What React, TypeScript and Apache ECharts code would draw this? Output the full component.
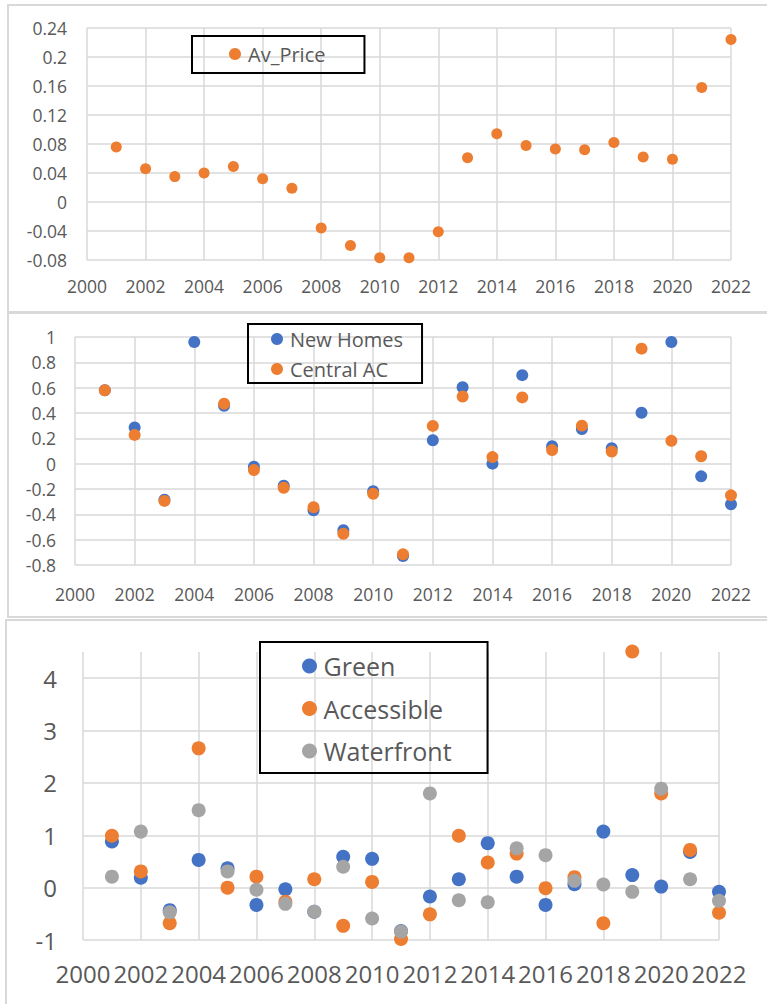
import React, { useEffect, useRef } from "react";
import * as echarts from "echarts";

const years = [2001, 2002, 2003, 2004, 2005, 2006, 2007, 2008, 2009, 2010, 2011, 2012, 2013, 2014, 2015, 2016, 2017, 2018, 2019, 2020, 2021, 2022];

const avPrice = [0.076, 0.046, 0.035, 0.040, 0.049, 0.032, 0.019, -0.036, -0.060, -0.077, -0.077, -0.041, 0.061, 0.094, 0.078, 0.073, 0.072, 0.082, 0.062, 0.059, 0.158, 0.224];

const newHomes = [0.58, 0.285, -0.285, 0.96, 0.457, -0.024, -0.174, -0.368, -0.525, -0.218, -0.729, 0.185, 0.604, 0.0, 0.699, 0.138, 0.274, 0.122, 0.402, 0.96, -0.10, -0.32];
const centralAC: (number | null)[] = [0.58, 0.227, -0.294, null, 0.473, -0.05, -0.19, -0.344, -0.553, -0.238, -0.716, 0.298, 0.53, 0.052, 0.523, 0.107, 0.30, 0.096, 0.908, 0.18, 0.059, -0.25];

const green = [0.88, 0.19, -0.43, 0.53, 0.37, -0.33, -0.03, -0.46, 0.59, 0.55, -0.83, -0.17, 0.16, 0.85, 0.21, -0.33, 0.064, 1.07, 0.24, 0.02, 0.68, -0.08];
const accessible = [0.99, 0.31, -0.68, 2.66, 0.0, 0.21, -0.27, 0.16, -0.73, 0.11, -0.98, -0.51, 0.99, 0.48, 0.65, -0.01, 0.20, -0.68, 4.51, 1.80, 0.72, -0.48];
const waterfront = [0.21, 1.07, -0.47, 1.48, 0.31, -0.04, -0.31, -0.46, 0.40, -0.59, -0.84, 1.80, -0.24, -0.28, 0.75, 0.62, 0.13, 0.06, -0.08, 1.89, 0.16, -0.25];

const xTickYears = [2000, 2002, 2004, 2006, 2008, 2010, 2012, 2014, 2016, 2018, 2020, 2022];

const ORANGE = "#ED7D31";
const BLUE = "#4472C4";
const GRAY = "#A5A5A5";
const GRID = "#d9d9d9";
const TEXT = "#595959";
const FONT = "'Open Sans', Lato, sans-serif";

const pairs = (vals: (number | null)[]) =>
  years.map((y, i) => (vals[i] === null ? null : [y, vals[i]])).filter((p) => p !== null);

const fmt = (v: number) => String(+v.toFixed(2));

export default function App() {
  const ref = useRef<HTMLDivElement>(null);
  useEffect(() => {
    if (!ref.current) return;
    const chart = echarts.init(ref.current, null, { renderer: "svg" });

    const xAxis = (gridIndex: number, fontSize: number, margin: number) => ({
      type: "value",
      gridIndex,
      min: xTickYears[0],
      max: xTickYears[xTickYears.length - 1],
      interval: 2,
      axisLine: { show: false },
      axisTick: { show: false },
      splitLine: { show: true, lineStyle: { color: GRID, width: 1.5 } },
      axisLabel: { color: TEXT, fontSize, fontFamily: FONT, margin, formatter: (v: number) => String(v) },
    });

    const yAxis = (gridIndex: number, min: number, max: number, interval: number, fontSize: number, margin: number, splitColor: any) => ({
      type: "value",
      gridIndex,
      min,
      max,
      interval,
      axisLine: { show: false },
      axisTick: { show: false },
      splitLine: { show: true, lineStyle: { color: splitColor, width: 1.5 } },
      axisLabel: { color: TEXT, fontSize, fontFamily: FONT, margin, formatter: fmt, showMaxLabel: max !== 4.5 },
    });

    const scatter = (name: string, vals: (number | null)[], color: string, idx: number, size: number) => ({
      type: "scatter",
      name,
      xAxisIndex: idx,
      yAxisIndex: idx,
      data: pairs(vals),
      symbolSize: size,
      itemStyle: { color, opacity: 1 },
      clip: false,
    });

    const legendBase = {
      orient: "vertical",
      icon: "circle",
      borderColor: "#000",
      borderWidth: 2,
      itemGap: 0,
      selectedMode: false,
    };

    chart.setOption({
      animation: false,
      backgroundColor: "#fff",
      graphic: [
        { type: "rect", shape: { x: 8, y: 5, width: 800, height: 307 }, style: { fill: "none", stroke: GRID, lineWidth: 2 }, z: -1 },
        { type: "rect", shape: { x: 8, y: 313, width: 800, height: 304 }, style: { fill: "none", stroke: GRID, lineWidth: 2 }, z: -1 },
        { type: "rect", shape: { x: 6, y: 620, width: 800, height: 400 }, style: { fill: "none", stroke: GRID, lineWidth: 2 }, z: -1 },
      ],
      grid: [
        { left: 87, right: 36, top: 28, height: 232 },
        { left: 75, right: 36, top: 337, height: 228 },
        { left: 83, right: 48, top: 652, height: 288 },
      ],
      xAxis: [xAxis(0, 17.5, 17), xAxis(1, 17.5, 20), xAxis(2, 24, 21)],
      yAxis: [
        yAxis(0, -0.08, 0.24, 0.04, 17.5, 20, GRID),
        yAxis(1, -0.8, 1, 0.2, 17.5, 19, GRID),
        yAxis(2, -1, 4.5, 1, 24, 26, [GRID, GRID, GRID, GRID, GRID, GRID, "rgba(0,0,0,0)"]),
      ],
      legend: [
        {
          ...legendBase,
          left: 192,
          top: 36,
          padding: [6, 39, 7, 37],
          itemWidth: 16,
          itemHeight: 12,
          data: ["Av_Price"],
          textStyle: { color: TEXT, fontSize: 20, fontFamily: FONT, lineHeight: 24 },
        },
        {
          ...legendBase,
          left: 248,
          top: 324,
          padding: [3, 19, 2, 23],
          itemWidth: 16,
          itemHeight: 12,
          itemGap: 6,
          data: ["New Homes", "Central AC"],
          textStyle: { color: TEXT, fontSize: 20, fontFamily: FONT, lineHeight: 24 },
        },
        {
          ...legendBase,
          left: 260,
          top: 642,
          padding: [9, 36, 7, 42],
          itemWidth: 18,
          itemHeight: 15,
          itemGap: 12.5,
          data: ["Green", "Accessible", "Waterfront"],
          textStyle: { color: TEXT, fontSize: 25, fontFamily: FONT, lineHeight: 30 },
        },
      ],
      series: [
        scatter("Av_Price", avPrice, ORANGE, 0, 11),
        scatter("New Homes", newHomes, BLUE, 1, 12),
        scatter("Central AC", centralAC, ORANGE, 1, 12),
        scatter("Green", green, BLUE, 2, 14),
        scatter("Accessible", accessible, ORANGE, 2, 14),
        scatter("Waterfront", waterfront, GRAY, 2, 14),
      ],
    });
    return () => chart.dispose();
  }, []);
  return <div ref={ref} style={{ position: "absolute", left: 0, top: 0, width: 767, height: 1004 }} />;
}
